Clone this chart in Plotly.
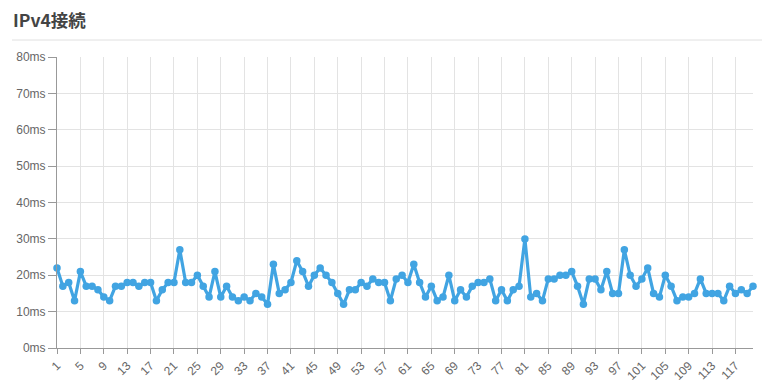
import plotly.graph_objects as go

x_index = list(range(1, 121))
latency_ms = [
    22, 17, 18, 13, 21, 17, 17, 16, 14, 13,
    17, 17, 18, 18, 17, 18, 18, 13, 16, 18,
    18, 27, 18, 18, 20, 17, 14, 21, 14, 17,
    14, 13, 14, 13, 15, 14, 12, 23, 15, 16,
    18, 24, 21, 17, 20, 22, 20, 18, 15, 12,
    16, 16, 18, 17, 19, 18, 18, 13, 19, 20,
    18, 23, 18, 14, 17, 13, 14, 20, 13, 16,
    14, 17, 18, 18, 19, 13, 16, 13, 16, 17,
    30, 14, 15, 13, 19, 19, 20, 20, 21, 17,
    12, 19, 19, 16, 21, 15, 15, 27, 20, 17,
    19, 22, 15, 14, 20, 17, 13, 14, 14, 15,
    19, 15, 15, 15, 13, 17, 15, 16, 15, 17,
]
x_tickvals = list(range(1, 121, 4))
y_tickvals = [0, 10, 20, 30, 40, 50, 60, 70, 80]
y_ticktext = [f"{v}ms" for v in y_tickvals]
title_text = "IPv4接続"

line_color = "#41a4e2"

fig = go.Figure()
fig.add_trace(go.Scatter(
    x=x_index, y=latency_ms, mode="lines+markers",
    line=dict(color=line_color, width=3.2),
    marker=dict(color=line_color, size=7.5),
    hoverinfo="x+y", cliponaxis=False,
))

fig.update_layout(
    width=779, height=386,
    margin=dict(l=57, r=26, t=57, b=38),
    paper_bgcolor="white", plot_bgcolor="white",
    showlegend=False,
    font=dict(family="Liberation Sans, Arial, sans-serif", size=12, color="#666"),
    xaxis=dict(
        range=[1, 120], tickmode="array", tickvals=x_tickvals,
        ticktext=[str(v) for v in x_tickvals], tickangle=-45,
        showgrid=True, gridcolor="#e3e3e3", gridwidth=1,
        showline=True, linecolor="#999", linewidth=1,
        ticks="outside", ticklen=5, tickcolor="#999",
        zeroline=False, tickfont=dict(size=12, color="#666"),
        automargin=False,
    ),
    yaxis=dict(
        range=[0, 80], tickmode="array", tickvals=y_tickvals, ticktext=y_ticktext,
        showgrid=True, gridcolor="#e3e3e3", gridwidth=1,
        showline=True, linecolor="#999", linewidth=1,
        ticks="outside", ticklen=8, tickcolor="#999",
        zeroline=False, tickfont=dict(size=12, color="#666"),
        automargin=False,
    ),
    annotations=[dict(
        text=f"<b>{title_text}</b>", xref="paper", yref="paper",
        x=-57/696 + 11/696, y=(348 - 19) / 291, xanchor="left", yanchor="middle",
        showarrow=False,
        font=dict(family="Noto Sans CJK JP, sans-serif", size=17.5, color="#444"),
    )],
    shapes=[dict(
        type="line", xref="paper", yref="paper",
        x0=-45/696, x1=(762 - 57)/696, y0=(348 - 40)/291, y1=(348 - 40)/291,
        line=dict(color="#e0e0e0", width=1),
    )],
)

fig.write_html("out.html")
